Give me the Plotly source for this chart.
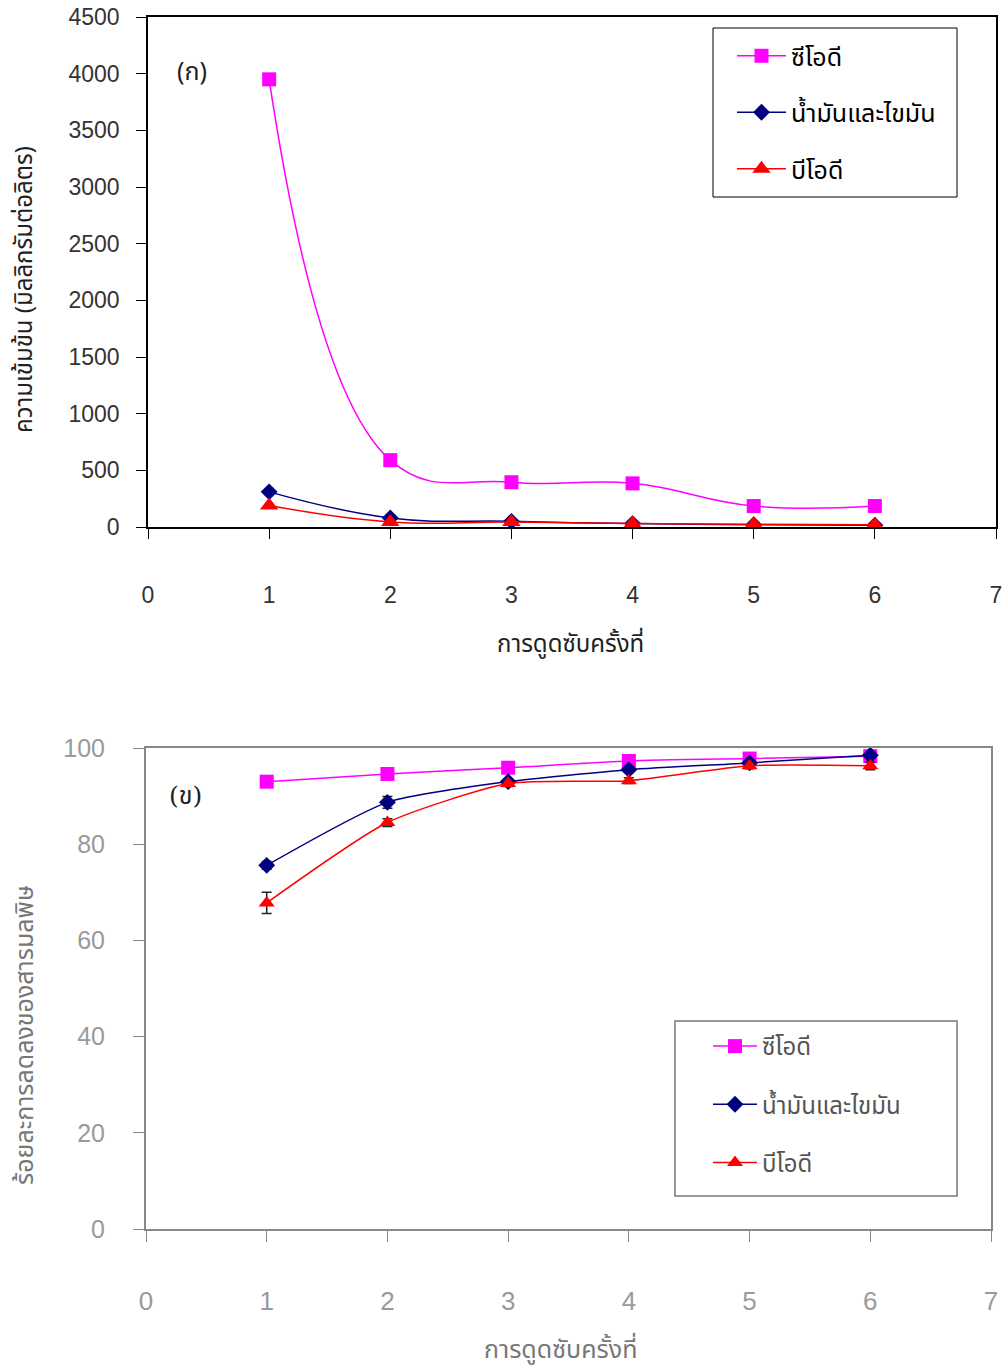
import plotly.graph_objects as go

# ---------------- data ----------------
runs = [1, 2, 3, 4, 5, 6]
names = ["ซีโอดี", "น้ำมันและไขมัน", "บีโอดี"]

# (ก) concentration, mg/L
cod_conc = [3950, 590, 395, 385, 185, 185]
oil_conc = [310, 80, 50, 30, 20, 15]
bod_conc = [190, 45, 45, 30, 25, 20]

# (ข) removal percentage
cod_pct = [93.0, 94.6, 95.9, 97.3, 97.8, 98.3]
oil_pct = [75.6, 88.7, 93.0, 95.5, 96.9, 98.5]
bod_pct = [67.8, 84.5, 92.6, 93.2, 96.3, 96.3]
cod_err = [0.4, 1.2, 0.5, 0.5, 0.8, 0.3]
oil_err = [0.8, 1.2, 0.5, 0.5, 0.5, 0.5]
bod_err = [2.2, 0.8, 0.6, 0.6, 0.6, 0.8]

x_ticks = [0, 1, 2, 3, 4, 5, 6, 7]

colors = ["#FF00FF", "#000080", "#FF0000"]
symbols = ["square", "diamond", "triangle-up"]

W, H = 1008, 1371
def px(x):
    return x / W
def py(y):
    return 1 - y / H

THAI = "Noto Sans Thai, Noto Sans, DejaVu Sans, sans-serif"
NUM = "Liberation Sans, Arial, sans-serif"
NUM2 = "Liberation Sans Narrow, Liberation Sans, Arial, sans-serif"

fig = go.Figure()

top_series = [cod_conc, oil_conc, bod_conc]
for i, ys in enumerate(top_series):
    fig.add_trace(go.Scatter(
        x=runs, y=ys, name=names[i], mode="lines+markers",
        line=dict(color=colors[i], width=1.5, shape="spline", smoothing=1.2),
        marker=dict(symbol=symbols[i], size=[14, 13, 16][i], color=colors[i]),
        xaxis="x", yaxis="y", legend="legend", legendgroup="t%d" % i,
    ))

bot_series = [cod_pct, oil_pct, bod_pct]
bot_err = [cod_err, oil_err, bod_err]
for i, ys in enumerate(bot_series):
    fig.add_trace(go.Scatter(
        x=runs, y=ys, name=names[i], mode="lines+markers",
        line=dict(color=colors[i], width=1.5, shape="spline", smoothing=0.6),
        marker=dict(symbol=symbols[i], size=[14, 13, 14][i], color=colors[i]),
        error_y=dict(type="data", array=bot_err[i], color="#222", thickness=1.5, width=5),
        xaxis="x2", yaxis="y2", legend="legend2", legendgroup="b%d" % i,
    ))

fig.update_layout(
    template="none",
    width=W, height=H,
    margin=dict(l=0, r=0, t=0, b=0, autoexpand=False),
    paper_bgcolor="white", plot_bgcolor="white",
    showlegend=True,
    xaxis=dict(
        domain=[px(148), px(996)], anchor="y", range=[0, 7], automargin=False,
        tickvals=x_ticks, ticks="outside", ticklen=10, tickcolor="black",
        showline=True, linecolor="black", linewidth=1.5, mirror=True,
        showgrid=False, zeroline=False,
        tickfont=dict(family=NUM, size=23, color="#333"),
        ticklabelstandoff=37,
    ),
    yaxis=dict(
        domain=[py(527), py(17)], anchor="x", range=[0, 4500], dtick=500, automargin=False,
        ticks="outside", ticklen=10, tickcolor="black",
        showline=True, linecolor="black", linewidth=1.5, mirror=True,
        showgrid=False, zeroline=False,
        tickfont=dict(family=NUM, size=23, color="#333"),
        ticklabelstandoff=12,
    ),
    xaxis2=dict(
        domain=[px(146), px(991)], anchor="y2", range=[0, 7], automargin=False,
        tickvals=x_ticks, ticks="outside", ticklen=11, tickcolor="#888",
        showline=True, linecolor="#888", linewidth=2, mirror=True,
        showgrid=False, zeroline=False,
        tickfont=dict(family=NUM2, size=26, color="#9a9a9a"),
        ticklabelstandoff=37,
    ),
    yaxis2=dict(
        domain=[py(1229), py(748)], anchor="x2", range=[0, 100], dtick=20, automargin=False,
        ticks="outside", ticklen=11, tickcolor="#888",
        showline=True, linecolor="#888", linewidth=2, mirror=True,
        showgrid=False, zeroline=False,
        tickfont=dict(family=NUM2, size=25, color="#9a9a9a"),
        ticklabelstandoff=23,
    ),
    legend=dict(
        x=px(732), y=py(33), xanchor="left", yanchor="top",
        bgcolor="rgba(0,0,0,0)", borderwidth=0,
        font=dict(family=THAI, size=25, color="black"),
        tracegroupgap=21, itemwidth=49,
    ),
    legend2=dict(
        x=px(708), y=py(1024), xanchor="left", yanchor="top",
        bgcolor="rgba(0,0,0,0)", borderwidth=0,
        font=dict(family=THAI, size=24, color="#555"),
        tracegroupgap=24, itemwidth=44,
    ),
    shapes=[
        dict(type="rect", xref="paper", yref="paper",
             x0=px(713), x1=px(957), y0=py(197), y1=py(28),
             line=dict(color="black", width=1), fillcolor="white", layer="above"),
        dict(type="rect", xref="paper", yref="paper",
             x0=px(675), x1=px(957), y0=py(1196), y1=py(1021),
             line=dict(color="#777", width=1.5), fillcolor="white", layer="above"),
    ],
    annotations=[
        dict(text="(ก)", x=px(192), y=py(72), xref="paper", yref="paper",
             xanchor="center", yanchor="middle",
             showarrow=False, font=dict(family=THAI, size=25, color="#222")),
        dict(text="(ข)", x=px(185), y=py(795), xref="paper", yref="paper",
             xanchor="center", yanchor="middle",
             showarrow=False, font=dict(family="DejaVu Serif, " + THAI, size=25, color="#222")),
        dict(text="ความเข้มข้น (มิลลิกรัมต่อลิตร)", x=px(25), y=py(290),
             xref="paper", yref="paper", textangle=-90, showarrow=False,
             xanchor="center", yanchor="middle",
             font=dict(family=THAI, size=24, color="#222")),
        dict(text="การดูดซับครั้งที่", x=px(570), y=py(645),
             xref="paper", yref="paper", showarrow=False,
             xanchor="center", yanchor="middle",
             font=dict(family=THAI, size=24, color="#222")),
        dict(text="ร้อยละการลดลงของสารมลพิษ", x=px(25), y=py(1035),
             xref="paper", yref="paper", textangle=-90, showarrow=False,
             xanchor="center", yanchor="middle",
             font=dict(family=THAI, size=25, color="#777")),
        dict(text="การดูดซับครั้งที่", x=px(560), y=py(1350),
             xref="paper", yref="paper", showarrow=False,
             xanchor="center", yanchor="middle",
             font=dict(family=THAI, size=25, color="#777")),
    ],
)

fig.write_html("out.html")
